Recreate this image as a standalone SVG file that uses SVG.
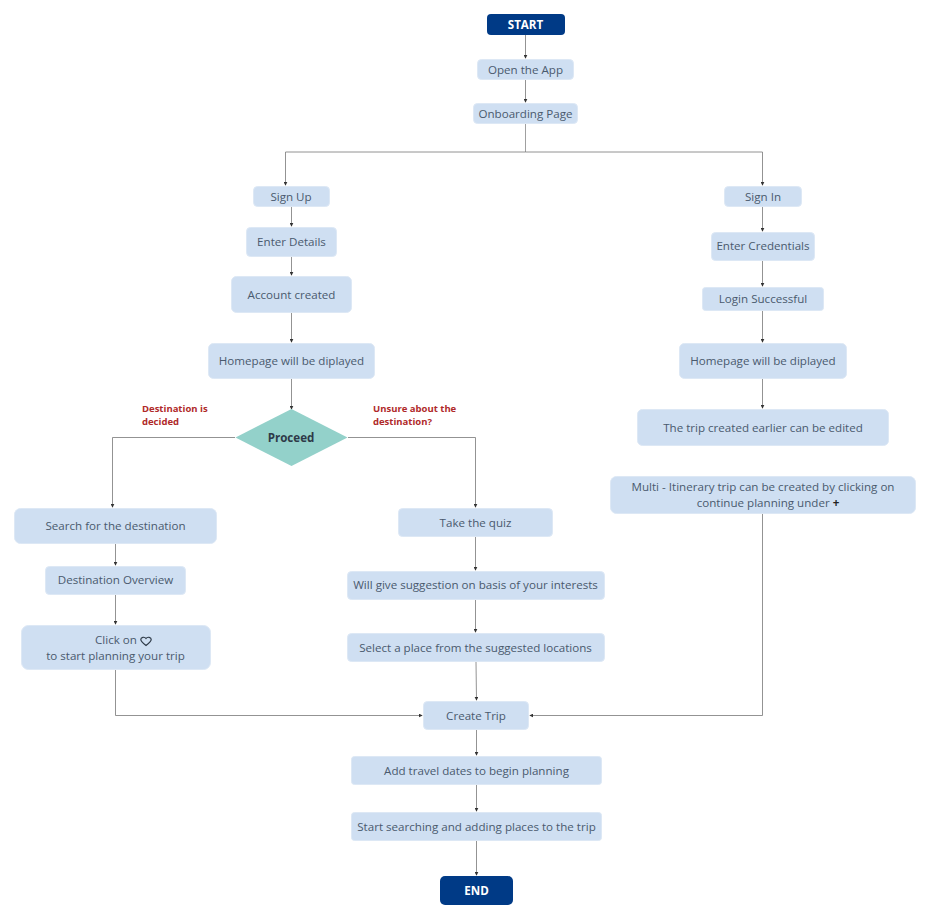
<svg xmlns="http://www.w3.org/2000/svg" width="940" height="919" viewBox="0 0 940 919">
<style>
text{font-family:"Open Sans","Noto Sans","Liberation Sans",sans-serif;font-size:11.600px;fill:#4a5a6e;text-anchor:middle}
.n{fill:#cfdff2;stroke:#dde8f5;stroke-width:1}
.t{fill:#003a86;stroke:none}
.w{fill:#fff;font-weight:700}
.l{fill:#b02a2a;font-size:9.500px;font-weight:700;text-anchor:start}
.c{fill:none;stroke:#777;stroke-width:.8;marker-end:url(#a)}
.c0{fill:none;stroke:#888;stroke-width:.8}
</style>
<defs><marker id="a" viewBox="0 0 6 6" refX="5" refY="3" markerWidth="4" markerHeight="4" markerUnits="userSpaceOnUse" orient="auto"><path d="M0 0L6 3L0 6z" fill="#333"/></marker></defs>
<rect width="940" height="919" fill="#fff"/>
<g id="connectors">
<path class="c" d="M525.5 35V58"/>
<path class="c" d="M525.5 80V102"/>
<path class="c0" d="M525.5 124V152"/>
<path class="c" d="M525.5 152H285.500V185"/>
<path class="c" d="M525.5 152H762.500V185"/>
<path class="c" d="M291.500 207V226"/>
<path class="c" d="M291.500 257V275"/>
<path class="c" d="M291.500 313V342"/>
<path class="c" d="M291.500 379V409"/>
<path class="c" d="M235 437.500H112.500V507"/>
<path class="c" d="M348 437.500H475.500V507"/>
<path class="c" d="M762.500 207V231"/>
<path class="c" d="M762.500 261V286"/>
<path class="c" d="M762.500 311V342"/>
<path class="c" d="M762.500 379V408"/>
<path class="c" d="M115.500 544V565"/>
<path class="c" d="M115.500 595V624"/>
<path class="c" d="M115.500 670V715.500H422"/>
<path class="c" d="M475.500 537V570"/>
<path class="c" d="M475.500 600V632"/>
<path class="c" d="M476 662L476.500 700"/>
<path class="c" d="M762.500 514V715.500H530"/>
<path class="c" d="M476.500 730V755"/>
<path class="c" d="M476.500 785V811"/>
<path class="c" d="M476.500 841V875"/>
</g>
<g id="start"><rect class="t" x="487" y="14" width="78" height="21" rx="4"/><text class="w" x="525.500" y="29">START</text></g>
<g id="open-app"><rect class="n" x="477.500" y="59.500" width="96" height="20" rx="4"/><text x="525.500" y="74">Open the App</text></g>
<g id="onboarding"><rect class="n" x="473.500" y="103.500" width="104" height="20" rx="4"/><text x="525.500" y="118">Onboarding Page</text></g>
<g id="sign-up"><rect class="n" x="253.500" y="186.500" width="76" height="20" rx="4"/><text x="291" y="201">Sign Up</text></g>
<g id="enter-details"><rect class="n" x="246.500" y="227.500" width="90" height="29" rx="4"/><text x="291.500" y="246">Enter Details</text></g>
<g id="account-created"><rect class="n" x="231.500" y="276.500" width="120" height="36" rx="5"/><text x="291.500" y="299">Account created</text></g>
<g id="homepage-left"><rect class="n" x="208.500" y="343.500" width="166" height="35" rx="5"/><text x="291.500" y="365">Homepage will be diplayed</text></g>
<g id="proceed"><path d="M291.500 409L347.500 437.500L291.500 466L235.500 437.500Z" fill="#93d1ca"/><text x="291" y="441.500" style="font-weight:700;fill:#2e3a48">Proceed</text></g>
<g id="label-decided"><text class="l" x="142" y="412">Destination is</text><text class="l" x="142" y="425">decided</text></g>
<g id="label-unsure"><text class="l" x="373" y="412">Unsure about the</text><text class="l" x="373" y="425">destination?</text></g>
<g id="sign-in"><rect class="n" x="724.500" y="186.500" width="77" height="20" rx="4"/><text x="763" y="201">Sign In</text></g>
<g id="enter-credentials"><rect class="n" x="711.500" y="232.500" width="103" height="28" rx="4"/><text x="763" y="250">Enter Credentials</text></g>
<g id="login"><rect class="n" x="702.500" y="287.500" width="121" height="23" rx="3"/><text x="763" y="303">Login Successful</text></g>
<g id="homepage-right"><rect class="n" x="679.500" y="343.500" width="167" height="35" rx="5"/><text x="763" y="365">Homepage will be diplayed</text></g>
<g id="trip-edit"><rect class="n" x="637.500" y="409.500" width="251" height="36" rx="5"/><text x="763" y="432">The trip created earlier can be edited</text></g>
<g id="multi"><rect class="n" x="610.500" y="476.500" width="305" height="37" rx="6"/><text x="763" y="491">Multi - Itinerary trip can be created by clicking on</text><text x="768" y="507">continue planning under <tspan style="font-weight:700;fill:#222"> +</tspan></text></g>
<g id="search"><rect class="n" x="14.500" y="508.500" width="202" height="35" rx="6"/><text x="115.500" y="530">Search for the destination</text></g>
<g id="overview"><rect class="n" x="45.500" y="566.500" width="140" height="28" rx="4"/><text x="115.500" y="584">Destination Overview</text></g>
<g id="click"><rect class="n" x="21.500" y="625.500" width="189" height="44" rx="7"/><text x="116" y="644">Click on</text><path d="M146 645.500C142 642.500 140.800 641 140.800 639.500C140.800 637.300 144.500 636.300 146 638.500C147.500 636.300 151.200 637.300 151.200 639.500C151.200 641 150 642.500 146 645.500Z" fill="none" stroke="#2e3a48" stroke-width="1.200"/><text x="115.500" y="660">to start planning your trip</text></g>
<g id="quiz"><rect class="n" x="398.500" y="508.500" width="154" height="28" rx="4"/><text x="475.500" y="527">Take the quiz</text></g>
<g id="suggestion"><rect class="n" x="347.500" y="571.500" width="257" height="28" rx="4"/><text x="475.500" y="589">Will give suggestion on basis of your interests</text></g>
<g id="select"><rect class="n" x="347.500" y="633.500" width="257" height="28" rx="4"/><text x="475.500" y="652">Select a place from the suggested locations</text></g>
<g id="create-trip"><rect class="n" x="423.500" y="701.500" width="105" height="28" rx="4"/><text x="476" y="720">Create Trip</text></g>
<g id="dates"><rect class="n" x="351.500" y="756.500" width="250" height="28" rx="3"/><text x="476.500" y="775">Add travel dates to begin planning</text></g>
<g id="searching"><rect class="n" x="351.500" y="812.500" width="250" height="28" rx="3"/><text x="476.500" y="831">Start searching and adding places to the trip</text></g>
<g id="end"><rect class="t" x="440" y="876" width="73" height="29" rx="5"/><text class="w" x="476.500" y="895">END</text></g>
</svg>
